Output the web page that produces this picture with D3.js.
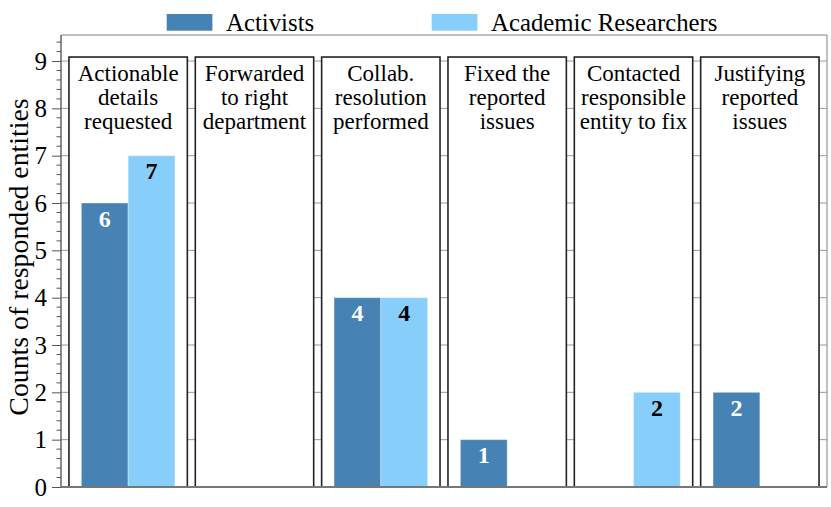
<!DOCTYPE html>
<html>
<head>
<meta charset="utf-8">
<script src="https://cdn.jsdelivr.net/npm/d3@7"></script>
<style>
  html, body { margin: 0; padding: 0; background: #fff; }
  svg { display: block; }
</style>
</head>
<body>
<svg id="chart" width="831" height="507"></svg>
<script>
// ---- data ----
const categories = [
  "Actionable details requested",
  "Forwarded to right department",
  "Collab. resolution performed",
  "Fixed the reported issues",
  "Contacted responsible entity to fix",
  "Justifying reported issues"
];
const categoryLines = [
  ["Actionable", "details", "requested"],
  ["Forwarded", "to right", "department"],
  ["Collab.", "resolution", "performed"],
  ["Fixed the", "reported", "issues"],
  ["Contacted", "responsible", "entity to fix"],
  ["Justifying", "reported", "issues"]
];
const seriesNames = ["Activists", "Academic Researchers"];
const activists = [6, 0, 4, 1, 0, 2];
const academics = [7, 0, 4, 0, 2, 0];
const yTicks = [0, 1, 2, 3, 4, 5, 6, 7, 8, 9];
const yLabel = "Counts of responded entities";

// ---- layout ----
const FONT = "'Liberation Serif', 'Times New Roman', Times, serif";
const colors = { "Activists": "#4682B4", "Academic Researchers": "#87CEFA" };
const labelColors = { "Activists": "#ffffff", "Academic Researchers": "#000000" };
const margin = { left: 61, right: 4, top: 35, bottom: 20 };
const W = 831, H = 507;

const svg = d3.select("#chart");

const x = d3.scaleBand()
  .domain(categories)
  .range([margin.left, W - margin.right])
  .paddingInner(0.063)
  .paddingOuter(0.063);

const xs = d3.scaleBand()
  .domain(seriesNames)
  .range([0, x.bandwidth()])
  .paddingInner(0)
  .paddingOuter(0.265);

const y = d3.scaleLinear()
  .domain([0, 9.55])
  .range([H - margin.bottom, margin.top]);

const data = categories.map((c, i) => ({
  cat: c,
  lines: categoryLines[i],
  values: [
    { s: "Activists", v: activists[i] },
    { s: "Academic Researchers", v: academics[i] }
  ]
}));

// frame
const x0 = margin.left, x1 = W - margin.right;
const yTop = y.range()[1], yBot = y.range()[0];
svg.append("line").attr("x1", x0).attr("x2", x1).attr("y1", yTop).attr("y2", yTop)
  .attr("stroke", "#aaa").attr("stroke-width", 1.5);
svg.append("line").attr("x1", x1).attr("x2", x1).attr("y1", yTop).attr("y2", yBot)
  .attr("stroke", "#aaa").attr("stroke-width", 1.5);

// grid
svg.append("g").selectAll("line").data(yTicks.filter(d => d > 0)).join("line")
  .attr("x1", x0).attr("x2", x1)
  .attr("y1", d => y(d)).attr("y2", d => y(d))
  .attr("stroke", "#999").attr("stroke-width", 1);

// panels
const panel = svg.append("g").selectAll("g").data(data).join("g")
  .attr("transform", d => `translate(${x(d.cat)},0)`);

panel.append("rect")
  .attr("x", 0).attr("y", y(9) - 4)
  .attr("width", x.bandwidth())
  .attr("height", y(0) - y(9) + 4)
  .attr("fill", "#fff")
  .attr("stroke", "#222")
  .attr("stroke-width", 1.6);

// bars
panel.selectAll("rect.bar").data(d => d.values.filter(v => v.v > 0)).join("rect")
  .attr("class", "bar")
  .attr("x", d => xs(d.s))
  .attr("y", d => y(d.v))
  .attr("width", xs.bandwidth())
  .attr("height", d => y(0) - y(d.v))
  .attr("fill", d => colors[d.s])
  .attr("stroke", "rgba(255,255,255,0.35)")
  .attr("stroke-width", 1);

// bar labels
panel.selectAll("text.val").data(d => d.values.filter(v => v.v > 0)).join("text")
  .attr("class", "val")
  .attr("x", d => xs(d.s) + xs.bandwidth() / 2)
  .attr("y", d => y(d.v) + 23.5)
  .attr("text-anchor", "middle")
  .style("font-family", FONT)
  .style("font-size", "24px")
  .style("font-weight", "bold")
  .attr("fill", d => labelColors[d.s])
  .text(d => d.v);

// panel titles
panel.append("text")
  .attr("text-anchor", "middle")
  .style("font-family", FONT)
  .style("font-size", "23px")
  .attr("fill", "#000")
  .selectAll("tspan").data(d => d.lines).join("tspan")
  .attr("x", x.bandwidth() / 2)
  .attr("y", (d, i) => y(9) + 20 + i * 24.2)
  .text(d => d);

// left axis line & bottom axis line
svg.append("line").attr("x1", x0).attr("x2", x0).attr("y1", yTop).attr("y2", yBot)
  .attr("stroke", "#666").attr("stroke-width", 1.5);
svg.append("line").attr("x1", x0).attr("x2", x1).attr("y1", yBot).attr("y2", yBot)
  .attr("stroke", "#777").attr("stroke-width", 2);

// y axis
const yAxis = d3.axisLeft(y).tickValues(yTicks).tickFormat(d3.format("d"))
  .tickSize(9).tickPadding(5);
const gy = svg.append("g").attr("transform", `translate(${x0},0)`).call(yAxis);
gy.select(".domain").remove();
gy.selectAll(".tick line").attr("stroke", "#555").attr("stroke-width", 1);
gy.selectAll(".tick text")
  .style("font-family", FONT)
  .style("font-size", "25px").attr("fill", "#000");

const minor = d3.range(0, 9.5, 0.2).filter(v => Math.abs(v - Math.round(v)) > 1e-6);
svg.append("g").selectAll("line").data(minor).join("line")
  .attr("x1", x0 - 4.5).attr("x2", x0)
  .attr("y1", d => y(d)).attr("y2", d => y(d))
  .attr("stroke", "#555").attr("stroke-width", 1);

// y label
svg.append("text")
  .attr("transform", `translate(28,${(yTop + yBot) / 2 - 4}) rotate(-90)`)
  .attr("text-anchor", "middle")
  .style("font-family", FONT)
  .style("font-size", "27.8px")
  .attr("fill", "#000")
  .text(yLabel);

// legend
const legendX = [166.7, 431.7];
const legend = svg.append("g").selectAll("g").data(seriesNames).join("g")
  .attr("transform", (d, i) => `translate(${legendX[i]},14)`);
legend.append("rect")
  .attr("width", 45.7).attr("height", 16.7)
  .attr("fill", d => colors[d]);
legend.append("text")
  .attr("x", 59.3).attr("y", 16.7)
  .style("font-family", FONT)
  .style("font-size", "24.8px")
  .attr("fill", "#000")
  .text(d => d);
</script>
</body>
</html>
